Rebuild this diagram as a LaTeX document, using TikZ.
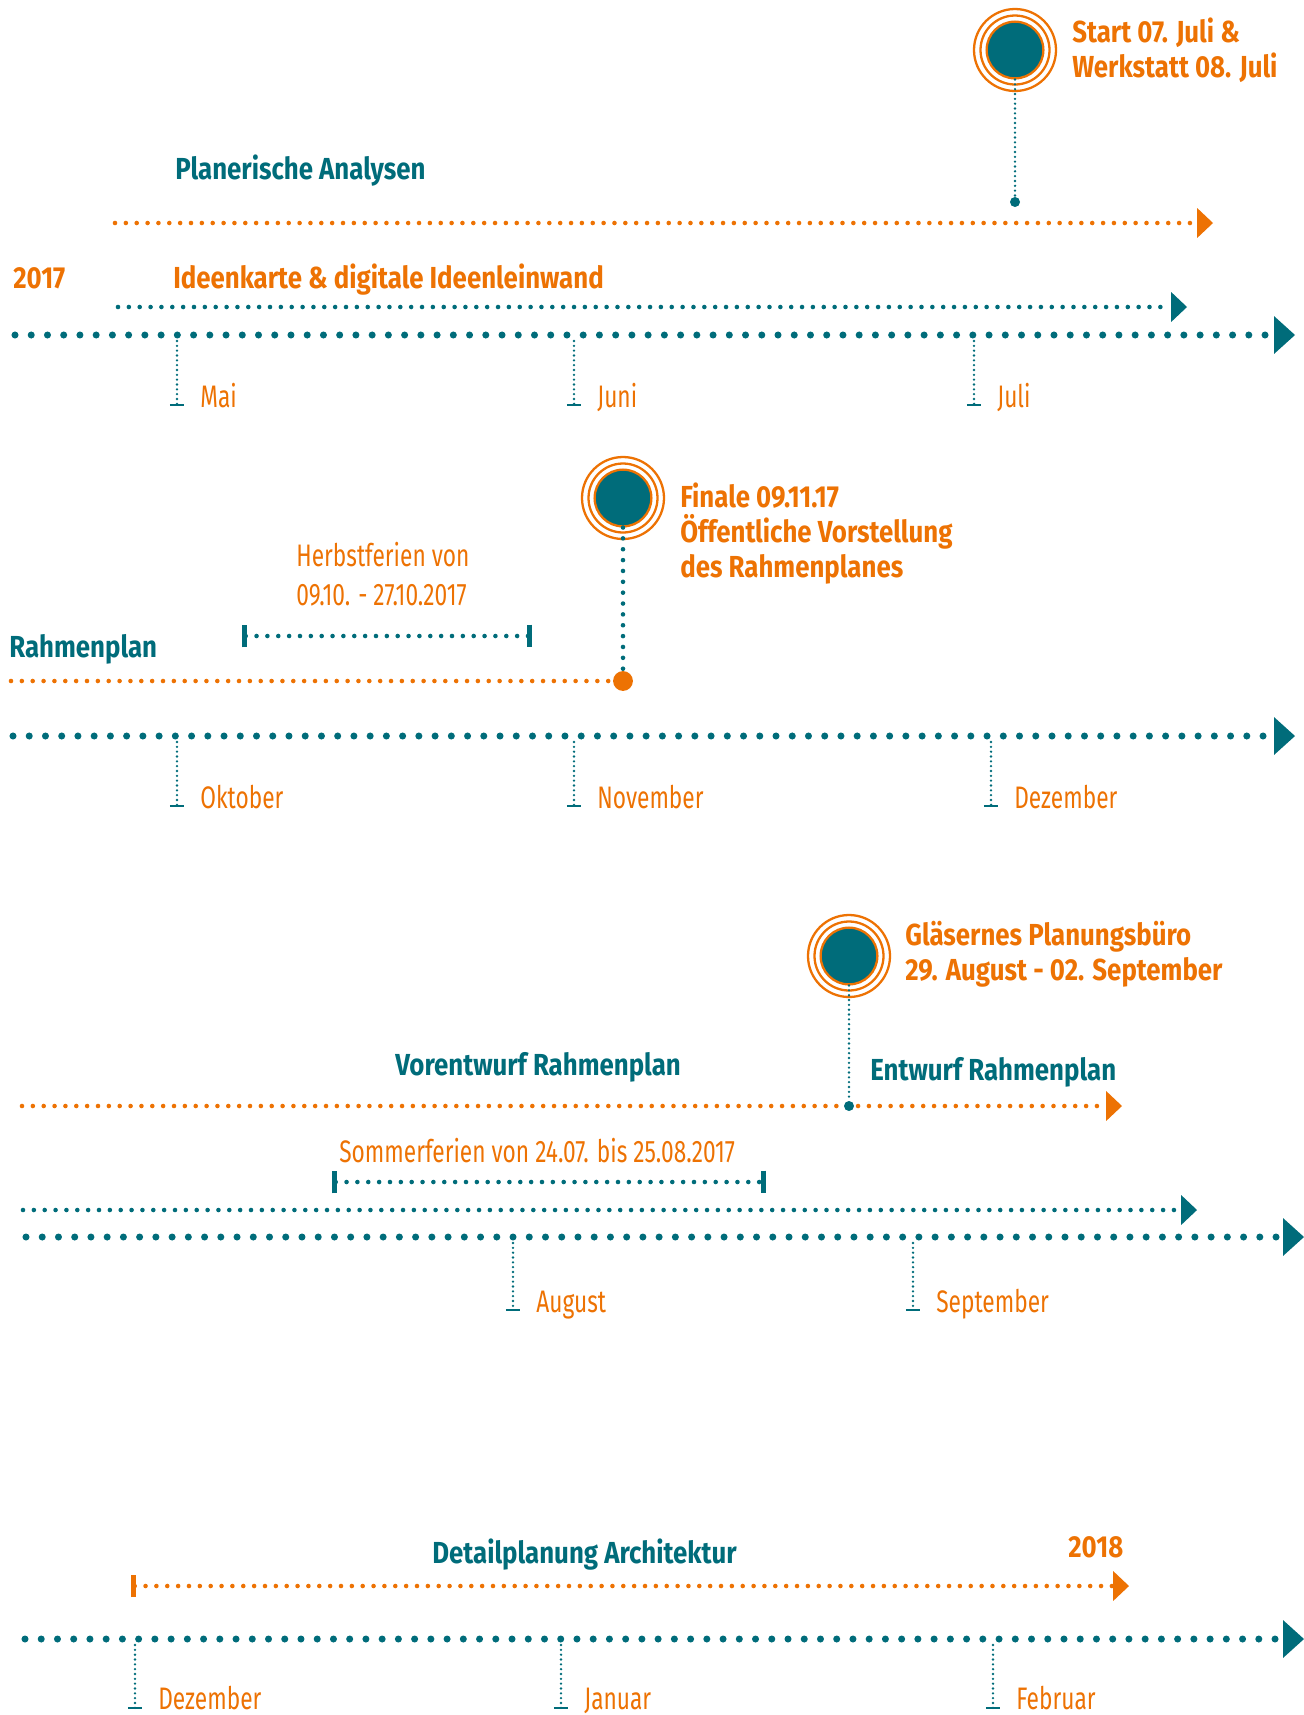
\documentclass[tikz,border=0pt]{standalone}
\usepackage{fontspec}
\setmainfont{Fira Sans}
\newfontfamily\headfont[FakeStretch=0.85]{Fira Sans}
\newfontfamily\thinfont[FakeStretch=0.73]{Fira Sans}
\usetikzlibrary{arrows.meta}
\definecolor{petrol}{RGB}{0,108,122}
\definecolor{signal}{RGB}{237,114,3}
\begin{document}
\begin{tikzpicture}[x=0.02cm,y=-0.02cm,
	bigdots/.style={petrol,line width=4pt,line cap=round,dash pattern=on 0pt off 9.24pt},
	smalldots/.style={line width=2.6pt,line cap=round,dash pattern=on 0pt off 6.18pt},
	finedots/.style={petrol,line width=1.5pt,line cap=round,dash pattern=on 0pt off 2.75pt},
	pointed/.style={-{Triangle[length=9pt,width=17pt,line width=0pt]}},
	bigpointed/.style={-{Triangle[length=11.9pt,width=21.5pt,line width=0pt]}},
	bracket/.style={{Bar[width=13pt,line width=2.8pt]}-{Bar[width=13pt,line width=2.8pt]}},
	milestone/.style={circle,fill=petrol,draw=signal,line width=1.3pt,minimum size=32.3pt,inner sep=0pt},
	ring/.style={signal,line width=1.3pt},
	knob/.style={circle,fill=petrol,minimum size=5.7pt,inner sep=0pt},
	tickbar/.style={petrol,line width=1.2pt},
	headline/.style={petrol,font=\headfont\bfseries\fontsize{17.3}{19.8}\selectfont,anchor=base west,inner sep=0pt},
	event/.style={headline,signal,align=left},
	month/.style={signal,font=\thinfont\fontsize{17.7}{22.1}\selectfont,anchor=base west,inner sep=0pt},
	note/.style={month,align=left}
]
\useasboundingbox (0,0) rectangle (1304,1715);

% Juli
\node[milestone] (start) at (1015,50) {};
\draw[ring] (start.center) circle[radius=34.5] (start.center) circle[radius=41];
\node[event] (starttext) at (1072,77) {Start 07. Juli \&\\Werkstatt 08. Juli};
\node[headline] (analyse) at (175,179) {Planerische Analysen};
\coordinate (a1) at (115,223); \coordinate (a2) at (1213,223);
\draw[smalldots,signal,pointed] (a1) -- (a2);
\node[knob] (startdot) at (1015,202) {};
\draw[finedots] (start) -- (startdot);
\node[headline,signal] (y2017) at (13,288) {2017};
\node[headline,signal] (ideen) at (173,288) {Ideenkarte \& digitale Ideenleinwand};
\coordinate (i1) at (118,307); \coordinate (i2) at (1187,307);
\draw[smalldots,petrol,pointed] (i1) -- (i2);
\coordinate (t1) at (15,335); \coordinate (t2) at (1295,335);
\draw[bigdots,bigpointed] (t1) -- (t2);
\foreach \x/\m [count=\i] in {177/Mai,574/Juni,974/Juli}{
	\coordinate (ma\i) at (\x,341); \coordinate (mb\i) at (\x,405);
	\draw[finedots] (ma\i) -- (mb\i);
	\draw[tickbar] ([xshift=-4pt]mb\i) -- ([xshift=4pt]mb\i);
	\node[month] (ml\i) at (\x+23,407) {\m};
}

% November
\node[milestone] (finale) at (623,498) {};
\draw[ring] (finale.center) circle[radius=34.5] (finale.center) circle[radius=41];
\node[event] (finaletext) at (680,577) {Finale 09.11.17\\Öffentliche Vorstellung\\des Rahmenplanes};
\node[circle,fill=signal,minimum size=11.3pt,inner sep=0pt] (finaledot) at (623,681) {};
\draw[smalldots,petrol] (finale) -- (finaledot);
\node[headline] (rahmen) at (9,657) {Rahmenplan};
\coordinate (r1) at (11,681);
\draw[smalldots,signal] (r1) -- (finaledot);
\node[note] (herbst) at (296,605) {Herbstferien von\\09.10. - 27.10.2017};
\coordinate (h1) at (242,636); \coordinate (h2) at (532,636);
\draw[smalldots,petrol,bracket] (h1) -- (h2);
\coordinate (u1) at (13,736); \coordinate (u2) at (1295,736);
\draw[bigdots,bigpointed] (u1) -- (u2);
\foreach \x/\m [count=\i] in {177/Oktober,574/November,991/Dezember}{
	\coordinate (na\i) at (\x,742); \coordinate (nb\i) at (\x,806);
	\draw[finedots] (na\i) -- (nb\i);
	\draw[tickbar] ([xshift=-4pt]nb\i) -- ([xshift=4pt]nb\i);
	\node[month] (nl\i) at (\x+23,808) {\m};
}

% August
\node[milestone] (buero) at (849,956) {};
\draw[ring] (buero.center) circle[radius=34.5] (buero.center) circle[radius=41];
\node[event] (buerotext) at (905,980) {Gläsernes Planungsbüro\\29. August - 02. September};
\node[headline] (vorentwurf) at (395,1075) {Vorentwurf Rahmenplan};
\node[headline] (entwurf) at (870,1080) {Entwurf Rahmenplan};
\coordinate (v1) at (22,1106); \coordinate (v2) at (1122,1106);
\draw[smalldots,signal,pointed] (v1) -- (v2);
\node[knob] (buerodot) at (849,1106) {};
\draw[finedots] (buero) -- (buerodot);
\node[month] (sommer) at (339,1162) {Sommerferien von 24.07. bis 25.08.2017};
\coordinate (s1) at (332,1182); \coordinate (s2) at (766,1182);
\draw[smalldots,petrol,bracket] (s1) -- (s2);
\coordinate (e1) at (23,1210); \coordinate (e2) at (1197,1210);
\draw[smalldots,petrol,pointed] (e1) -- (e2);
\coordinate (w1) at (26,1237); \coordinate (w2) at (1304,1237);
\draw[bigdots,bigpointed] (w1) -- (w2);
\foreach \x/\m [count=\i] in {513/August,913/September}{
	\coordinate (oa\i) at (\x,1243); \coordinate (ob\i) at (\x,1310);
	\draw[finedots] (oa\i) -- (ob\i);
	\draw[tickbar] ([xshift=-4pt]ob\i) -- ([xshift=4pt]ob\i);
	\node[month] (ol\i) at (\x+23,1312) {\m};
}

% Dezember
\node[headline] (detail) at (432,1563) {Detailplanung Architektur};
\node[headline,signal] (y2018) at (1068,1557) {2018};
\coordinate (d1) at (131,1586); \coordinate (d2) at (1129,1586);
\draw[smalldots,signal,{Bar[width=12.5pt,line width=2.8pt]}-{Triangle[length=9pt,width=17pt,line width=0pt]}] (d1) -- (d2);
\coordinate (z1) at (25,1639); \coordinate (z2) at (1304,1639);
\draw[bigdots,bigpointed] (z1) -- (z2);
\foreach \x/\m [count=\i] in {135/Dezember,561/Januar,993/Februar}{
	\coordinate (pa\i) at (\x,1645); \coordinate (pb\i) at (\x,1708);
	\draw[finedots] (pa\i) -- (pb\i);
	\draw[tickbar] ([xshift=-4pt]pb\i) -- ([xshift=4pt]pb\i);
	\node[month] (pl\i) at (\x+23,1709) {\m};
}
\end{tikzpicture}
\end{document}
